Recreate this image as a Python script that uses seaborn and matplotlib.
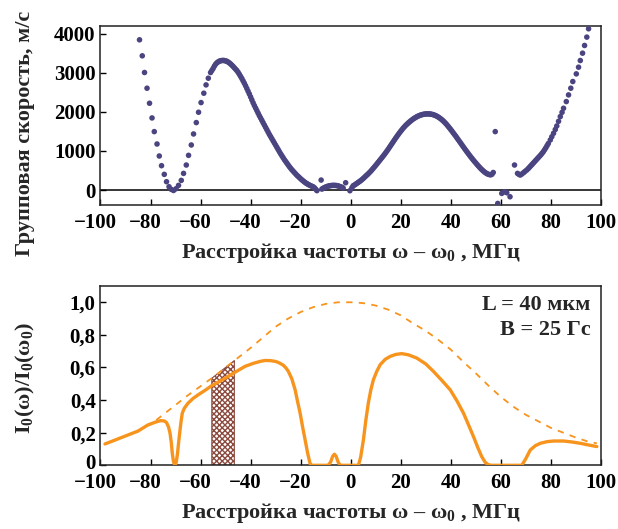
import numpy as np
import pandas as pd
import matplotlib
matplotlib.use("Agg")
import matplotlib.pyplot as plt
import matplotlib.transforms as mtransforms
import seaborn as sns

# ---------------- data: top panel (group velocity, m/s) ----------------
f_left = [-84.4, -83.3, -82.4, -81.4, -80.4, -79.4, -78.5, -77.4, -76.5, -75.6,
          -74.5, -73.6, -72.6, -71.7, -70.8, -69.8, -68.8, -67.7, -66.8, -65.7,
          -64.8, -63.7, -62.8, -61.7, -60.8, -59.8, -58.7, -57.8, -56.9, -56.0]
v_left = [3846, 3436, 3009, 2607, 2222, 1846, 1496, 1179, 872, 624,
          402, 214, 85, 17, -10, 34, 120, 248, 427, 641,
          889, 1154, 1436, 1727, 1992, 2239, 2479, 2692, 2863, 3009]

f_peak1 = [-55.5, -55.0, -54.5, -54.0, -53.5, -53.0, -52.5, -52.0, -51.5, -51.0,
           -50.5, -50.0, -49.5, -49.0, -48.5, -48.0, -47.5, -47.0, -46.5, -46.0,
           -45.5, -45.0, -44.5, -44.0, -43.5, -43.0, -42.5, -42.0, -41.5, -41.0,
           -40.5, -40.0, -39.5, -39.0, -38.5, -38.0, -37.5, -37.0, -36.5, -36.0,
           -35.5, -35.0, -34.5, -34.0, -33.5, -33.0, -32.5, -32.0, -31.5, -31.0,
           -30.5, -30.0, -29.5, -29.0, -28.5, -28.0, -27.5, -27.0, -26.5, -26.0,
           -25.5, -25.0, -24.5, -24.0, -23.5, -23.0, -22.5, -22.0, -21.5, -21.0,
           -20.5, -20.0, -19.5, -19.0, -18.5, -18.0, -17.5, -17.0, -16.5, -16.0,
           -15.5, -15.0, -14.5, -14.0, -13.5]
v_peak1 = [3060, 3110, 3170, 3220, 3255, 3280, 3298, 3310, 3316, 3318,
           3315, 3308, 3295, 3278, 3255, 3228, 3198, 3165, 3130, 3095,
           3060, 3015, 2965, 2910, 2855, 2795, 2735, 2670, 2600, 2530,
           2460, 2385, 2310, 2235, 2165, 2100, 2035, 1970, 1905, 1845,
           1785, 1725, 1665, 1605, 1545, 1485, 1425, 1370, 1315, 1260,
           1205, 1150, 1095, 1040, 985, 930, 880, 830, 780, 735,
           690, 645, 600, 560, 520, 485, 450, 415, 380, 350,
           320, 290, 262, 235, 210, 185, 165, 145, 128, 112,
           98, 85, 60, 25, -15]

f_mid = [-11.8, -11.5, -11.0, -10.5, -10.0, -9.5, -9.0, -8.5, -8.0, -7.5, -7.0,
         -6.5, -6.0, -5.5, -5.0, -4.5, -4.0, -3.5, -3.0, -2.0, -0.3, 0.5]
v_mid = [256, 25, 45, 62, 78, 90, 100, 108, 114, 118, 120,
         120, 118, 114, 106, 96, 84, 70, 52, 188, -17, 60]

f_peak2 = [1.0, 1.5, 2.0, 2.5, 3.0, 3.5, 4.0, 4.5, 5.0, 5.5, 6.0, 6.5, 7.0, 7.5,
           8.0, 8.5, 9.0, 9.5, 10.0, 10.5, 11.0, 11.5, 12.0, 12.5, 13.0, 13.5,
           14.0, 14.5, 15.0, 15.5, 16.0, 16.5, 17.0, 17.5, 18.0, 18.5, 19.0, 19.5,
           20.0, 20.5, 21.0, 21.5, 22.0, 22.5, 23.0, 23.5, 24.0, 24.5, 25.0, 25.5,
           26.0, 26.5, 27.0, 27.5, 28.0, 28.5, 29.0, 29.5, 30.0, 30.5, 31.0, 31.5,
           32.0, 32.5, 33.0, 33.5, 34.0, 34.5, 35.0, 35.5, 36.0, 36.5, 37.0, 37.5,
           38.0, 38.5, 39.0, 39.5, 40.0, 40.5, 41.0, 41.5, 42.0, 42.5, 43.0, 43.5,
           44.0, 44.5, 45.0, 45.5, 46.0, 46.5, 47.0, 47.5, 48.0, 48.5, 49.0, 49.5,
           50.0, 50.5, 51.0, 51.5, 52.0, 52.5, 53.0, 53.5, 54.0, 54.5, 55.0, 55.5,
           56.0, 56.5, 57.0]
v_peak2 = [110, 128, 150, 172, 195, 218, 240, 267, 295, 325, 355, 385, 415, 448,
           480, 517, 555, 592, 630, 670, 710, 750, 790, 830, 870, 912,
           955, 1000, 1045, 1092, 1140, 1188, 1235, 1283, 1330, 1375, 1420, 1463,
           1505, 1545, 1585, 1620, 1655, 1685, 1715, 1743, 1770, 1795, 1820, 1840,
           1860, 1878, 1895, 1908, 1920, 1930, 1938, 1944, 1948, 1950, 1950, 1948,
           1945, 1938, 1930, 1918, 1905, 1888, 1870, 1848, 1825, 1798, 1770, 1738,
           1705, 1668, 1630, 1590, 1550, 1508, 1465, 1423, 1380, 1335, 1290, 1245,
           1200, 1155, 1110, 1065, 1020, 978, 935, 892, 850, 810, 770, 732,
           695, 657, 620, 585, 550, 520, 490, 463, 440, 420, 405, 395,
           390, 405, 450]

f_right = [57.8, 58.8, 60.4, 61.5, 62.4, 63.7, 65.5, 66.7, 67.3, 67.8, 68.4, 69.1,
           69.7, 70.4, 71.0, 71.5, 72.0, 72.5, 73.0, 73.5, 74.0, 74.5, 75.0, 75.5,
           76.0, 76.5, 77.0, 77.5, 78.0, 78.5, 79.0, 79.8, 80.4, 81.1, 81.8, 82.4,
           83.1, 83.8, 84.5, 85.1, 86.2, 87.1, 88.0, 88.8, 90.2, 91.1, 91.8, 92.7,
           93.5, 94.4, 95.1]
v_right = [1496, -342, -85, -43, -68, -171, 641, 427, 400, 385, 410, 444,
           478, 513, 550, 585, 620, 655, 690, 725, 760, 795, 830, 865,
           900, 940, 980, 1030, 1080, 1135, 1190, 1282, 1365, 1453, 1550, 1641,
           1760, 1880, 1990, 2094, 2265, 2436, 2607, 2778, 2974, 3145, 3316, 3504,
           3701, 3915, 4128]

# ---------------- data: bottom panel (normalised intensity) ----------------
f_int = [-98.2, -95, -90, -85, -81, -78, -76, -74.5, -73.6, -72.8, -72.2, -71.7,
         -71.3, -70.8, -70.2, -69.7, -69.2, -68.7, -68.2, -67.7, -67.3, -66.5,
         -65, -63, -61, -58, -55.6, -52, -49, -46, -42.2, -39, -36, -34.2, -32,
         -30, -28.9, -27, -25.9, -24.9, -23.5, -22.2, -21.2, -20.2, -19.2, -18.2,
         -17.2, -16.2, -15.5, -9, -8.0, -7.2, -6.5, -5.8, -5.0, -4.2, 3.1, 4.0,
         5.1, 6.1, 7.1, 8.1, 9.1, 10.4, 11.8, 13.8, 15.8, 18, 20.4, 23, 26.4, 30,
         33.1, 36.5, 39.8, 42.5, 45.1, 47.2, 49.1, 50.8, 52.4, 53.8, 55.1, 56.5,
         68.4, 70.0, 71.8, 73.8, 75.8, 78.5, 81.1, 85.1, 88.5, 91.8, 95, 98.4]
i_int = [0.131, 0.15, 0.18, 0.21, 0.248, 0.265, 0.274, 0.272, 0.262, 0.235, 0.197, 0.14,
         0.074, 0.02, 0.0, 0.02, 0.074, 0.15, 0.217, 0.28, 0.32, 0.35,
         0.381, 0.41, 0.432, 0.462, 0.488, 0.518, 0.545, 0.573, 0.607, 0.625, 0.638, 0.643, 0.642,
         0.637, 0.631, 0.615, 0.598, 0.576, 0.53, 0.463, 0.39, 0.32, 0.235, 0.156,
         0.075, 0.01, 0.0, 0.0, 0.02, 0.055, 0.068, 0.055, 0.02, 0.0, 0.0, 0.05,
         0.156, 0.28, 0.385, 0.465, 0.525, 0.575, 0.617, 0.65, 0.668, 0.68, 0.685, 0.678, 0.658, 0.622,
         0.576, 0.52, 0.463, 0.395, 0.32, 0.245, 0.176, 0.11, 0.053, 0.018, 0.003, 0.0,
         0.0, 0.04, 0.094, 0.12, 0.135, 0.145, 0.149, 0.149, 0.143, 0.135, 0.125, 0.115]

f_env = [-82, -80, -75, -70, -65, -60, -55, -50, -45, -40, -35, -30, -25, -20, -15,
         -10, -5, 0, 5, 10, 15, 20, 25, 30, 35, 40, 45, 50, 55, 60, 65, 70, 75,
         80, 85, 90, 95, 98.4]
i_env = [0.24, 0.25, 0.31, 0.37, 0.43, 0.485, 0.54, 0.60, 0.66, 0.72, 0.785, 0.85,
         0.90, 0.94, 0.97, 0.99, 1.0, 1.0, 0.995, 0.98, 0.955, 0.92, 0.87, 0.825,
         0.77, 0.71, 0.635, 0.565, 0.49, 0.42, 0.36, 0.31, 0.27, 0.23, 0.20, 0.17,
         0.145, 0.135]

band_range = [-55.5, -46.5]   # hatched frequency band

x_ticks = [-100, -80, -60, -40, -20, 0, 20, 40, 60, 80, 100]
x_tick_labels = ["\u2212100", "\u221280", "\u221260", "\u221240", "\u221220", "0",
                 "20", "40", "60", "80", "100"]
v_ticks = [0, 1000, 2000, 3000, 4000]
v_tick_labels = ["0", "1000", "2000", "3000", "4000"]
i_ticks = [0, 0.2, 0.4, 0.6, 0.8, 1.0]
i_tick_labels = ["0", "0,2", "0,4", "0,6", "0,8", "1,0"]

# ---------------- style ----------------
sns.set_theme(style="white")
plt.rcParams["font.family"] = ["Liberation Serif", "DejaVu Serif"]
plt.rcParams["font.weight"] = "bold"
plt.rcParams["axes.labelweight"] = "bold"
plt.rcParams["mathtext.fontset"] = "custom"
plt.rcParams["mathtext.rm"] = "Liberation Serif:bold"
plt.rcParams["mathtext.it"] = "Liberation Serif:italic:bold"
plt.rcParams["mathtext.bf"] = "Liberation Serif:bold"
plt.rcParams["axes.unicode_minus"] = True
plt.rcParams["hatch.linewidth"] = 1.0

DOT = "#4a4580"
ORANGE = "#f7941d"
BROWN = "#8b4a3e"
TICK_FS = 15
LAB_FS = 16

fig = plt.figure(figsize=(6.18, 5.29), dpi=100)
ax1 = fig.add_axes([0.1626, 0.6119, 0.8096, 0.339])
ax2 = fig.add_axes([0.1626, 0.1204, 0.8096, 0.339])

# top panel
top_df = pd.DataFrame({
    "f": f_left + f_peak1 + f_mid + f_peak2 + f_right,
    "v": v_left + v_peak1 + v_mid + v_peak2 + v_right,
})
ax1.axhline(0, color="black", lw=1.1, zorder=1)
sns.scatterplot(data=top_df, x="f", y="v", ax=ax1, color=DOT, s=16,
                edgecolor="none", linewidth=0, zorder=3, legend=False)
ax1.set_xlim(-100, 100)
ax1.set_ylim(-390, 4200)
ax1.set_yticks(v_ticks, v_tick_labels)

# bottom panel
sol_df = pd.DataFrame({"f": f_int, "I": i_int})
env_df = pd.DataFrame({"f": f_env, "I": i_env})
band_x = np.linspace(band_range[0], band_range[1], 30)
band_top = np.interp(band_x, f_env, i_env)
ax2.fill_between(band_x, 0, band_top, facecolor="white", edgecolor=BROWN,
                 hatch="xxxxxx", linewidth=0.8, zorder=2)
sns.lineplot(data=env_df, x="f", y="I", ax=ax2, color=ORANGE, lw=1.3, zorder=3)
ax2.lines[-1].set_dashes((3.5, 3.5))
sns.lineplot(data=sol_df, x="f", y="I", ax=ax2, color=ORANGE, lw=2.4, zorder=4)
ax2.set_xlim(-100, 100)
ax2.set_ylim(0, 1.1)
ax2.set_yticks(i_ticks, i_tick_labels)

ax2.text(0.979, 0.894, "L = 40 мкм", transform=ax2.transAxes, ha="right",
         va="center", fontsize=LAB_FS)
ax2.text(0.979, 0.755, "B = 25 Гс", transform=ax2.transAxes, ha="right",
         va="center", fontsize=LAB_FS)

xlab = "Расстройка частоты ω – ω$_0$ , МГц"
for ax in (ax1, ax2):
    ax.set_xticks(x_ticks, x_tick_labels)
    ax.tick_params(direction="in", length=4.5, width=1.0, labelsize=TICK_FS,
                   top=False, right=False, bottom=True, left=True, pad=3.5,
                   colors="black")
    ax.tick_params(axis="x", pad=5.5)
    for sp in ax.spines.values():
        sp.set_color("#222222")
        sp.set_linewidth(1.1)
    ax.set_xlabel(xlab, fontsize=LAB_FS, va="top")
    ax.xaxis.set_label_coords(0.5, -0.2)
    shift = mtransforms.ScaledTranslation(-5 / 100, 0, fig.dpi_scale_trans)
    for lbl in ax.get_xticklabels():
        if lbl.get_text().startswith("\u2212"):
            lbl.set_transform(lbl.get_transform() + shift)

# lift the bottom-left "0" label a little so it clears the x tick labels
lift = mtransforms.ScaledTranslation(0, 4 / 100, fig.dpi_scale_trans)
for lbl in ax2.get_yticklabels():
    if lbl.get_text() == "0":
        lbl.set_transform(lbl.get_transform() + lift)

ax1.set_ylabel("Групповая скорость, м/с", fontsize=LAB_FS)
ax1.yaxis.set_label_coords(-0.131, 0.40)
ax2.set_ylabel("I$_0$(ω)/I$_0$(ω$_0$)", fontsize=LAB_FS)
ax2.yaxis.set_label_coords(-0.127, 0.487)

fig.savefig("out.png", dpi=100)
